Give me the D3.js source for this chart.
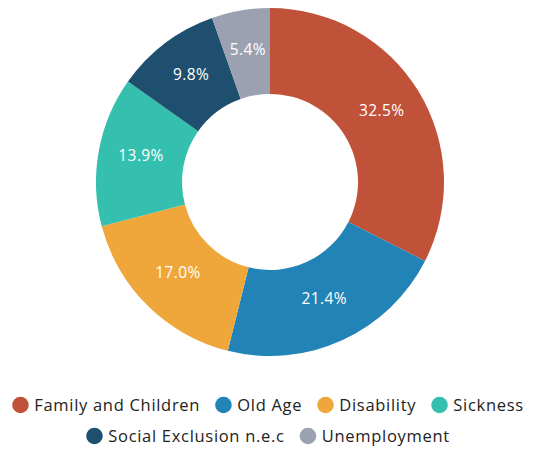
<!DOCTYPE html>
<html><head><meta charset="utf-8">
<script src="https://cdn.jsdelivr.net/npm/d3@7"></script>
<style>
html,body{margin:0;padding:0;background:#fff;}
text{font-family:"Open Sans","DejaVu Sans",sans-serif;}
</style></head>
<body><svg id="c" width="536" height="450"></svg>
<script>
const categories = ["Family and Children","Old Age","Disability","Sickness","Social Exclusion n.e.c","Unemployment"];
const values = [32.5, 21.4, 17.0, 13.9, 9.8, 5.4];
const colors = ["#C1523A","#2284B6","#EFA63A","#35BFAE","#1F4F6E","#9BA1B1"];
const legendRows = [[0,1,2,3],[4,5]];

const svg = d3.select("#c");
const cx = 270, cy = 182, R = 174, r0 = 88;
const data = categories.map((c,i)=>({name:c, value:values[i], color:colors[i]}));
const pie = d3.pie().value(d=>d.value).sort(null);
const arc = d3.arc().innerRadius(r0).outerRadius(R);
const g = svg.append("g").attr("transform",`translate(${cx},${cy})`);
const arcs = pie(data);
g.selectAll("path").data(arcs).join("path")
  .attr("d",arc).attr("fill",d=>d.data.color);
g.selectAll("text.lbl").data(arcs).join("text").attr("class","lbl")
  .attr("transform",d=>`translate(${arc.centroid(d)})`)
  .attr("text-anchor","middle").attr("dy","0.15em")
  .attr("fill","#fff").attr("font-size",15.5).attr("letter-spacing",0.4)
  .text(d=>d3.format(".1f")(d.data.value)+"%");

// legend
const fs = 16.5, cr = 8.3, gapIn = 5.5, gapOut = 15;
const rowY = [405, 436];
legendRows.forEach((row,ri)=>{
  const lg = svg.append("g");
  let x = 0;
  row.forEach(i=>{
    const it = lg.append("g").attr("transform",`translate(${x},0)`);
    it.append("circle").attr("cx",cr).attr("cy",0).attr("r",cr).attr("fill",colors[i]);
    const t = it.append("text").attr("x",2*cr+gapIn).attr("y",0).attr("dy","0.35em")
      .attr("font-size",fs).attr("letter-spacing",0.7).attr("fill","#222").text(categories[i]);
    x += 2*cr+gapIn+t.node().getComputedTextLength()+gapOut;
  });
  const w = x - gapOut;
  lg.attr("transform",`translate(${268 - w/2},${rowY[ri]})`);
});
</script></body></html>
